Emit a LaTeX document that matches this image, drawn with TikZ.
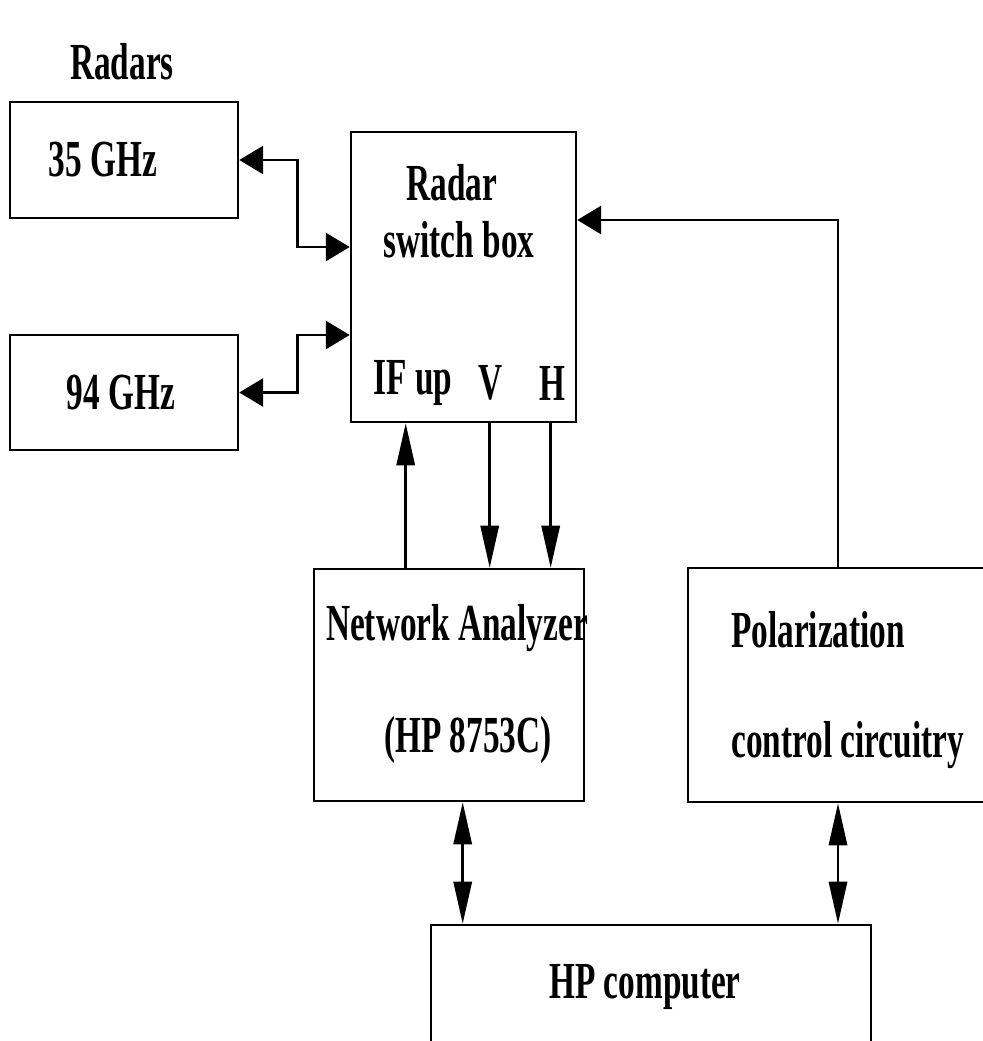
\documentclass[tikz,border=0pt]{standalone}
\usepackage{fontspec}
\newfontfamily\radfont{Liberation Serif}[FakeStretch=0.64]
\usetikzlibrary{arrows.meta}
\usetikzlibrary{calc}

\begin{document}
\begin{tikzpicture}[x=0.025cm, y=-0.025cm, line width=1.8pt,
        box_style/.style={draw, inner sep=0pt},
        label_style/.style={inner sep=0pt, font=\radfont\bfseries\fontsize{37}{44}\selectfont},
        edge_style/.style={draw, -{Triangle[length=17pt,width=20pt]}},
        dedge_style/.style={draw, {Triangle[length=17pt,width=20pt]}-{Triangle[length=17pt,width=20pt]}},
        vedge_style/.style={draw, -{Triangle[length=30pt,width=13pt]}},
        vdedge_style/.style={draw, {Triangle[length=30pt,width=13pt]}-{Triangle[length=30pt,width=13pt]}}]

        \useasboundingbox (0,0) rectangle (983,1041);
        \clip (0,0) rectangle (983,1041);

        \node [box_style, minimum width=5.7cm, minimum height=2.9cm](r35) at (124,160) {};

        \node [box_style, minimum width=5.7cm, minimum height=2.875cm](r94) at (124,392.5) {};

        \node [box_style, minimum width=5.625cm, minimum height=7.25cm](sw) at (463.5,277) {};

        \node [box_style, minimum width=6.75cm, minimum height=5.8cm](na) at (449,685) {};

        \node [box_style, minimum width=9.3cm, minimum height=5.85cm](pol) at (874,685) {};

        \node [box_style, minimum width=11cm, minimum height=4.375cm](hp) at (651,1012.5) {};

        % labels
        \node [label_style](radars) at (122,62) {Radars};

        \node [label_style](l35) at (103,160) {35 GHz};

        \node [label_style](l94) at (121,393) {94 GHz};

        \node [label_style](lsw) at (452,183) {Radar};

        \node [label_style](lsw2) at (459,240) {switch box};

        \node [label_style](lif) at (413,383) {IF up};

        \node [label_style](lv) at (491,383) {V};

        \node [label_style](lh) at (552,383) {H};

        \node [label_style](lna) at (457,628) {Network Analyzer};

        \node [label_style](lhp) at (468,740) {(HP 8753C)};

        \node [label_style, anchor=west](lpol) at (730,630) {Polarization};

        \node [label_style, anchor=west](lctl) at (730,745) {control circuitry};

        \node [label_style](lcomp) at (645,987) {HP computer};

        % ports
        \path (sw.west) ++(0,-30) coordinate (swA) ++(0,88) coordinate (swB);
        \path (sw.east) ++(0,-57) coordinate (swC);
        \path (na.north west) ++(93,0) coordinate (naIF) ++(84,0) coordinate (naV) ++(61,0) coordinate (naH);
        \path (na.south west) ++(150,0) coordinate (naB);
        \path (pol.north) ++(-36,0) coordinate (polT);

        \draw [dedge_style] (r35.east) -- ++(58,0) |- (swA);

        \draw [dedge_style] (r94.east) -- ++(58,0) |- (swB);

        \draw [edge_style] (polT) |- (swC);

        \draw [vedge_style] (naIF) -- (naIF |- sw.south);

        \draw [vedge_style] (naV |- sw.south) -- (naV);

        \draw [vedge_style] (naH |- sw.south) -- (naH);

        \draw [vdedge_style] (naB) -- (naB |- hp.north);

        \draw [vdedge_style] (polT |- pol.south) -- (polT |- hp.north);

\end{tikzpicture}
\end{document}
